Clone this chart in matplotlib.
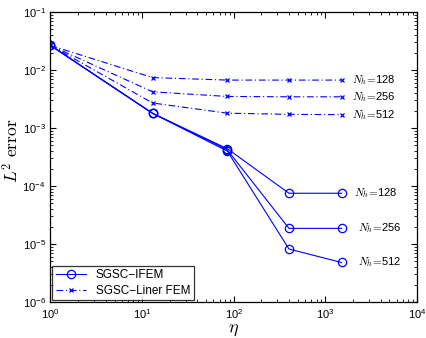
import matplotlib
matplotlib.use('Agg')
import matplotlib.pyplot as plt
import numpy as np

plt.rcParams['font.family'] = ['Liberation Sans', 'DejaVu Sans']
plt.rcParams['mathtext.fontset'] = 'cm'

# données
eta = [1, 13, 85, 400, 1500]
labels_nh = ['128', '256', '512']

ifem_128 = [2.65e-2, 1.79e-3, 4.4e-4, 7.5e-5, 7.5e-5]
ifem_256 = [2.65e-2, 1.79e-3, 4.2e-4, 1.86e-5, 1.86e-5]
ifem_512 = [2.65e-2, 1.79e-3, 4.0e-4, 8.2e-6, 4.8e-6]

fem_128 = [2.65e-2, 7.4e-3, 6.7e-3, 6.7e-3, 6.7e-3]
fem_256 = [2.65e-2, 4.2e-3, 3.5e-3, 3.45e-3, 3.45e-3]
fem_512 = [2.65e-2, 2.7e-3, 1.8e-3, 1.72e-3, 1.7e-3]

fig = plt.figure(figsize=(4.26, 3.38), dpi=100)
ax = fig.add_axes([0.1185, 0.1065, 0.8605, 0.858])

blue = '#0000ff'
ifem = [ifem_128, ifem_256, ifem_512]
fem = [fem_128, fem_256, fem_512]

for i, y in enumerate(ifem):
    ax.plot(eta, y, '-', color=blue, lw=0.8, marker='o', ms=6, mfc='none', mew=0.9,
            label='SGSC\u2212IFEM' if i == 0 else None)
for i, y in enumerate(fem):
    ax.plot(eta, y, color=blue, lw=0.8, ls=(0, (6, 2.5, 1, 2.5)), marker='x', ms=3.5, mew=0.9,
            label='SGSC\u2212Liner FEM' if i == 0 else None)

# étiquettes N_h
for nh, y in zip(labels_nh, fem):
    ax.text(1950, y[-1], r'$N_h\!=\!$' + nh, fontsize=8, va='center', ha='left')
for nh, y, xt in zip(labels_nh, ifem, [2050, 2250, 2250]):
    ax.text(xt, y[-1], r'$N_h\!=\!$' + nh, fontsize=8, va='center', ha='left')

ax.set_xscale('log')
ax.set_yscale('log')
ax.set_xlim(1, 1e4)
ax.set_ylim(1e-6, 1e-1)
ax.tick_params(which='both', direction='in', top=True, right=True, labelsize=8)
ax.tick_params(which='major', length=4)
ax.tick_params(which='minor', length=2)
ax.set_xlabel(r'$\eta$', fontsize=13, labelpad=0)
ax.set_ylabel(r'$L^2\ \mathrm{error}$', fontsize=12.5)
ax.yaxis.set_label_coords(-0.078, 0.52)

leg = ax.legend(loc='lower left', fontsize=8.5, frameon=True, fancybox=False,
                edgecolor='black', borderaxespad=0.15, handlelength=2.6,
                borderpad=0.3, labelspacing=0.3)
leg.get_frame().set_linewidth(0.9)
for sp in ax.spines.values():
    sp.set_linewidth(0.9)

fig.savefig('out.png', dpi=100)
